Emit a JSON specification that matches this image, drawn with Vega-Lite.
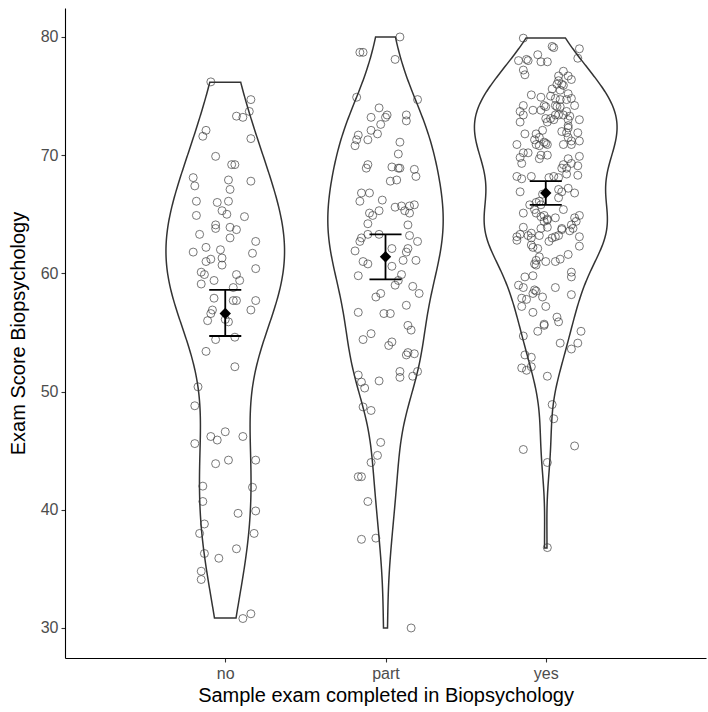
{
"$schema": "https://vega.github.io/schema/vega-lite/v6.json",
"width": 641, "height": 650,
"autosize": {"type": "none"},
"padding": {"left": 65, "top": 8, "right": 2, "bottom": 54},
"background": "white",
"config": {
  "view": {"stroke": null},
  "font": "Liberation Sans",
  "axis": {"grid": false, "domainColor": "black", "domainWidth": 1.1, "tickColor": "#333333", "tickSize": 4, "tickWidth": 1.1,
    "labelColor": "#4d4d4d", "labelFontSize": 16, "labelFont": "Liberation Sans", "titleFont": "Liberation Sans", "titleFontSize": 20, "titleFontWeight": "normal", "titleColor": "black", "labelPadding": 3}
},
"datasets": {
"pts": [
{"g":"no","j":-0.09,"v":76.2},{"g":"no","j":0.16,"v":74.7},{"g":"no","j":0.15,"v":73.7},{"g":"no","j":0.07,"v":73.3},{"g":"no","j":0.11,"v":73.2},
{"g":"no","j":-0.12,"v":72.1},{"g":"no","j":-0.14,"v":71.6},{"g":"no","j":0.16,"v":71.4},{"g":"no","j":-0.06,"v":69.9},{"g":"no","j":0.04,"v":69.2},
{"g":"no","j":0.06,"v":69.2},{"g":"no","j":-0.2,"v":68.1},{"g":"no","j":-0.19,"v":67.4},{"g":"no","j":0.02,"v":67.9},{"g":"no","j":0.16,"v":67.8},
{"g":"no","j":0.03,"v":67.1},{"g":"no","j":-0.18,"v":66.1},{"g":"no","j":-0.05,"v":66.0},{"g":"no","j":0.02,"v":66.1},{"g":"no","j":-0.18,"v":64.9},
{"g":"no","j":-0.02,"v":65.3},{"g":"no","j":0.01,"v":65.0},{"g":"no","j":0.12,"v":64.8},{"g":"no","j":-0.06,"v":64.1},{"g":"no","j":-0.06,"v":63.8},
{"g":"no","j":0.03,"v":63.9},{"g":"no","j":0.07,"v":63.7},{"g":"no","j":0.03,"v":63.0},{"g":"no","j":0.19,"v":62.7},{"g":"no","j":-0.16,"v":63.3},
{"g":"no","j":-0.12,"v":62.2},{"g":"no","j":-0.2,"v":61.8},{"g":"no","j":-0.03,"v":62.0},{"g":"no","j":0.17,"v":61.7},{"g":"no","j":-0.02,"v":61.3},
{"g":"no","j":-0.09,"v":61.2},{"g":"no","j":-0.12,"v":61.0},{"g":"no","j":-0.02,"v":60.7},{"g":"no","j":0.19,"v":60.4},{"g":"no","j":-0.15,"v":60.1},
{"g":"no","j":-0.13,"v":59.9},{"g":"no","j":0.07,"v":59.9},{"g":"no","j":-0.07,"v":59.4},{"g":"no","j":-0.15,"v":59.1},{"g":"no","j":0.09,"v":59.4},
{"g":"no","j":0.05,"v":58.8},{"g":"no","j":-0.07,"v":57.9},{"g":"no","j":0.05,"v":57.7},{"g":"no","j":0.07,"v":57.7},{"g":"no","j":0.19,"v":57.7},
{"g":"no","j":0.16,"v":56.9},{"g":"no","j":-0.08,"v":56.9},{"g":"no","j":-0.09,"v":56.6},{"g":"no","j":-0.11,"v":56.0},{"g":"no","j":0.0,"v":56.1},
{"g":"no","j":0.02,"v":55.9},{"g":"no","j":-0.06,"v":54.4},{"g":"no","j":0.06,"v":54.6},{"g":"no","j":-0.12,"v":53.4},{"g":"no","j":0.06,"v":52.1},
{"g":"no","j":-0.17,"v":50.4},{"g":"no","j":-0.19,"v":48.8},{"g":"no","j":-0.09,"v":46.2},{"g":"no","j":-0.05,"v":45.9},{"g":"no","j":0.0,"v":46.6},
{"g":"no","j":0.11,"v":46.2},{"g":"no","j":-0.19,"v":45.6},{"g":"no","j":-0.06,"v":43.9},{"g":"no","j":0.02,"v":44.2},{"g":"no","j":0.19,"v":44.2},
{"g":"no","j":-0.14,"v":42.0},{"g":"no","j":0.17,"v":41.9},{"g":"no","j":-0.14,"v":40.7},{"g":"no","j":0.08,"v":39.7},{"g":"no","j":0.19,"v":39.9},
{"g":"no","j":-0.13,"v":38.8},{"g":"no","j":-0.16,"v":38.0},{"g":"no","j":0.18,"v":38.0},{"g":"no","j":-0.13,"v":36.3},{"g":"no","j":-0.04,"v":35.9},
{"g":"no","j":0.07,"v":36.7},{"g":"no","j":-0.15,"v":34.8},{"g":"no","j":-0.15,"v":34.1},{"g":"no","j":0.11,"v":30.8},{"g":"no","j":0.16,"v":31.2},
{"g":"part","j":0.09,"v":80.0},{"g":"part","j":-0.16,"v":78.7},{"g":"part","j":-0.14,"v":78.7},{"g":"part","j":0.06,"v":78.1},{"g":"part","j":-0.18,"v":74.9},
{"g":"part","j":0.2,"v":74.7},{"g":"part","j":-0.04,"v":74.0},{"g":"part","j":-0.09,"v":73.2},{"g":"part","j":0.0,"v":73.2},{"g":"part","j":0.01,"v":73.4},
{"g":"part","j":0.13,"v":73.4},{"g":"part","j":0.13,"v":72.9},{"g":"part","j":-0.03,"v":72.6},{"g":"part","j":-0.17,"v":71.7},{"g":"part","j":-0.18,"v":71.3},
{"g":"part","j":-0.19,"v":70.8},{"g":"part","j":-0.09,"v":72.1},{"g":"part","j":-0.05,"v":71.8},{"g":"part","j":-0.11,"v":71.3},{"g":"part","j":0.09,"v":71.1},
{"g":"part","j":0.08,"v":70.1},{"g":"part","j":-0.11,"v":69.2},{"g":"part","j":-0.12,"v":68.9},{"g":"part","j":0.04,"v":69.0},{"g":"part","j":0.08,"v":68.9},
{"g":"part","j":0.09,"v":68.9},{"g":"part","j":0.18,"v":68.8},{"g":"part","j":0.19,"v":68.2},{"g":"part","j":0.03,"v":67.8},{"g":"part","j":0.07,"v":67.9},
{"g":"part","j":-0.15,"v":66.8},{"g":"part","j":-0.1,"v":66.8},{"g":"part","j":-0.16,"v":66.1},{"g":"part","j":-0.02,"v":66.2},{"g":"part","j":0.06,"v":65.6},
{"g":"part","j":0.1,"v":65.7},{"g":"part","j":0.15,"v":65.7},{"g":"part","j":0.18,"v":65.8},{"g":"part","j":0.12,"v":65.3},{"g":"part","j":0.15,"v":65.1},
{"g":"part","j":-0.1,"v":65.1},{"g":"part","j":-0.08,"v":64.9},{"g":"part","j":-0.04,"v":65.3},{"g":"part","j":-0.11,"v":64.2},{"g":"part","j":0.14,"v":64.1},
{"g":"part","j":-0.11,"v":63.3},{"g":"part","j":-0.04,"v":63.3},{"g":"part","j":0.15,"v":63.2},{"g":"part","j":-0.15,"v":63.0},{"g":"part","j":-0.16,"v":62.7},
{"g":"part","j":0.2,"v":62.7},{"g":"part","j":-0.19,"v":61.9},{"g":"part","j":0.04,"v":62.1},{"g":"part","j":0.14,"v":62.1},{"g":"part","j":0.13,"v":61.8},
{"g":"part","j":0.11,"v":61.1},{"g":"part","j":0.19,"v":61.1},{"g":"part","j":-0.14,"v":61.0},{"g":"part","j":-0.11,"v":60.8},{"g":"part","j":0.04,"v":60.6},
{"g":"part","j":-0.17,"v":59.8},{"g":"part","j":0.1,"v":59.9},{"g":"part","j":0.08,"v":59.4},{"g":"part","j":0.06,"v":59.0},{"g":"part","j":0.17,"v":58.9},
{"g":"part","j":0.21,"v":58.3},{"g":"part","j":-0.03,"v":58.3},{"g":"part","j":-0.06,"v":58.0},{"g":"part","j":0.13,"v":57.3},{"g":"part","j":-0.17,"v":56.7},
{"g":"part","j":-0.01,"v":56.6},{"g":"part","j":0.03,"v":56.6},{"g":"part","j":0.14,"v":55.6},{"g":"part","j":0.16,"v":55.2},{"g":"part","j":-0.09,"v":54.9},
{"g":"part","j":-0.14,"v":54.4},{"g":"part","j":0.04,"v":54.2},{"g":"part","j":0.02,"v":53.9},{"g":"part","j":0.14,"v":53.3},{"g":"part","j":0.13,"v":53.1},
{"g":"part","j":0.18,"v":53.2},{"g":"part","j":-0.17,"v":51.4},{"g":"part","j":-0.15,"v":50.8},{"g":"part","j":-0.13,"v":50.3},{"g":"part","j":-0.04,"v":50.9},
{"g":"part","j":0.09,"v":51.7},{"g":"part","j":0.09,"v":51.2},{"g":"part","j":0.2,"v":51.7},{"g":"part","j":0.17,"v":51.3},{"g":"part","j":-0.14,"v":48.7},
{"g":"part","j":-0.09,"v":48.4},{"g":"part","j":-0.03,"v":45.7},{"g":"part","j":-0.05,"v":44.6},{"g":"part","j":-0.09,"v":44.0},{"g":"part","j":-0.17,"v":42.8},
{"g":"part","j":-0.15,"v":42.8},{"g":"part","j":-0.11,"v":40.7},{"g":"part","j":-0.15,"v":37.5},{"g":"part","j":-0.06,"v":37.6},{"g":"part","j":0.16,"v":30.0},
{"g":"yes","j":-0.14,"v":79.9},{"g":"yes","j":0.04,"v":79.2},{"g":"yes","j":0.05,"v":79.1},{"g":"yes","j":0.21,"v":79.0},{"g":"yes","j":0.2,"v":78.2},
{"g":"yes","j":-0.05,"v":78.5},{"g":"yes","j":-0.12,"v":78.1},{"g":"yes","j":-0.11,"v":78.0},{"g":"yes","j":-0.17,"v":78.0},{"g":"yes","j":-0.03,"v":77.9},
{"g":"yes","j":0.01,"v":77.9},{"g":"yes","j":-0.14,"v":77.2},{"g":"yes","j":-0.13,"v":76.8},{"g":"yes","j":0.11,"v":77.1},{"g":"yes","j":0.08,"v":76.7},
{"g":"yes","j":0.14,"v":76.7},{"g":"yes","j":0.16,"v":76.4},{"g":"yes","j":0.08,"v":76.3},{"g":"yes","j":0.07,"v":76.0},{"g":"yes","j":0.1,"v":76.0},
{"g":"yes","j":0.11,"v":75.9},{"g":"yes","j":0.04,"v":75.6},{"g":"yes","j":0.09,"v":75.5},{"g":"yes","j":0.14,"v":75.2},{"g":"yes","j":0.16,"v":74.8},
{"g":"yes","j":-0.09,"v":75.1},{"g":"yes","j":-0.03,"v":74.9},{"g":"yes","j":0.03,"v":75.0},{"g":"yes","j":0.06,"v":74.8},{"g":"yes","j":0.09,"v":74.7},
{"g":"yes","j":0.13,"v":74.7},{"g":"yes","j":-0.14,"v":74.2},{"g":"yes","j":-0.01,"v":74.2},{"g":"yes","j":0.0,"v":74.1},{"g":"yes","j":0.06,"v":74.2},
{"g":"yes","j":0.07,"v":74.1},{"g":"yes","j":0.09,"v":74.1},{"g":"yes","j":-0.08,"v":73.8},{"g":"yes","j":-0.03,"v":73.8},{"g":"yes","j":-0.16,"v":73.7},
{"g":"yes","j":-0.14,"v":73.4},{"g":"yes","j":-0.16,"v":72.8},{"g":"yes","j":0.13,"v":73.7},{"g":"yes","j":0.18,"v":74.2},{"g":"yes","j":0.06,"v":73.4},
{"g":"yes","j":0.08,"v":73.4},{"g":"yes","j":0.11,"v":73.4},{"g":"yes","j":0.0,"v":73.1},{"g":"yes","j":0.03,"v":73.1},{"g":"yes","j":0.01,"v":72.8},
{"g":"yes","j":0.05,"v":73.0},{"g":"yes","j":0.15,"v":73.3},{"g":"yes","j":0.14,"v":73.0},{"g":"yes","j":0.21,"v":73.0},{"g":"yes","j":0.14,"v":72.5},
{"g":"yes","j":0.14,"v":72.3},{"g":"yes","j":-0.02,"v":72.1},{"g":"yes","j":-0.13,"v":71.8},{"g":"yes","j":-0.18,"v":70.9},{"g":"yes","j":-0.06,"v":71.8},
{"g":"yes","j":-0.04,"v":71.5},{"g":"yes","j":-0.07,"v":71.3},{"g":"yes","j":-0.06,"v":70.9},{"g":"yes","j":-0.04,"v":70.8},{"g":"yes","j":-0.01,"v":71.1},
{"g":"yes","j":0.0,"v":71.0},{"g":"yes","j":0.01,"v":70.9},{"g":"yes","j":0.1,"v":72.0},{"g":"yes","j":0.13,"v":71.9},{"g":"yes","j":0.2,"v":71.9},
{"g":"yes","j":0.14,"v":71.5},{"g":"yes","j":0.16,"v":71.2},{"g":"yes","j":0.11,"v":70.9},{"g":"yes","j":0.16,"v":70.9},{"g":"yes","j":0.21,"v":71.2},
{"g":"yes","j":-0.14,"v":70.2},{"g":"yes","j":-0.11,"v":70.2},{"g":"yes","j":-0.16,"v":69.8},{"g":"yes","j":-0.03,"v":70.0},{"g":"yes","j":0.01,"v":70.0},
{"g":"yes","j":-0.04,"v":69.7},{"g":"yes","j":0.14,"v":69.7},{"g":"yes","j":0.21,"v":69.9},{"g":"yes","j":-0.15,"v":69.3},{"g":"yes","j":0.1,"v":68.9},
{"g":"yes","j":0.13,"v":68.9},{"g":"yes","j":0.11,"v":69.2},{"g":"yes","j":0.16,"v":69.3},{"g":"yes","j":0.13,"v":68.4},{"g":"yes","j":0.2,"v":69.1},
{"g":"yes","j":0.2,"v":68.3},{"g":"yes","j":-0.18,"v":68.2},{"g":"yes","j":-0.15,"v":68.0},{"g":"yes","j":-0.09,"v":68.2},{"g":"yes","j":0.08,"v":68.1},
{"g":"yes","j":0.05,"v":68.2},{"g":"yes","j":0.02,"v":68.1},{"g":"yes","j":-0.16,"v":66.9},{"g":"yes","j":0.08,"v":67.1},{"g":"yes","j":0.1,"v":66.9},
{"g":"yes","j":0.14,"v":67.2},{"g":"yes","j":0.18,"v":66.8},{"g":"yes","j":0.08,"v":66.4},{"g":"yes","j":-0.02,"v":66.7},{"g":"yes","j":-0.1,"v":65.8},
{"g":"yes","j":-0.06,"v":66.0},{"g":"yes","j":-0.04,"v":66.1},{"g":"yes","j":-0.03,"v":65.8},{"g":"yes","j":-0.07,"v":65.4},{"g":"yes","j":-0.06,"v":65.1},
{"g":"yes","j":0.11,"v":65.4},{"g":"yes","j":-0.14,"v":65.1},{"g":"yes","j":-0.03,"v":64.8},{"g":"yes","j":-0.01,"v":64.9},{"g":"yes","j":0.01,"v":64.6},
{"g":"yes","j":-0.01,"v":64.4},{"g":"yes","j":0.01,"v":64.5},{"g":"yes","j":0.06,"v":64.7},{"g":"yes","j":0.01,"v":63.9},{"g":"yes","j":-0.03,"v":63.8},
{"g":"yes","j":0.18,"v":64.7},{"g":"yes","j":0.21,"v":64.9},{"g":"yes","j":0.19,"v":64.4},{"g":"yes","j":0.16,"v":64.1},{"g":"yes","j":-0.14,"v":63.9},
{"g":"yes","j":-0.09,"v":63.4},{"g":"yes","j":-0.11,"v":63.2},{"g":"yes","j":-0.09,"v":63.0},{"g":"yes","j":-0.04,"v":63.2},{"g":"yes","j":-0.18,"v":63.1},
{"g":"yes","j":-0.18,"v":62.8},{"g":"yes","j":-0.16,"v":63.3},{"g":"yes","j":0.04,"v":63.0},{"g":"yes","j":0.06,"v":63.1},{"g":"yes","j":0.08,"v":63.2},
{"g":"yes","j":0.1,"v":63.8},{"g":"yes","j":0.1,"v":63.7},{"g":"yes","j":0.15,"v":63.6},{"g":"yes","j":0.17,"v":63.8},{"g":"yes","j":0.02,"v":62.7},
{"g":"yes","j":0.21,"v":63.1},{"g":"yes","j":0.21,"v":62.3},{"g":"yes","j":-0.09,"v":62.4},{"g":"yes","j":-0.08,"v":62.2},{"g":"yes","j":-0.05,"v":62.1},
{"g":"yes","j":0.14,"v":61.6},{"g":"yes","j":-0.04,"v":61.4},{"g":"yes","j":-0.06,"v":61.1},{"g":"yes","j":-0.07,"v":60.8},{"g":"yes","j":-0.06,"v":60.7},
{"g":"yes","j":0.0,"v":61.0},{"g":"yes","j":0.06,"v":61.0},{"g":"yes","j":0.09,"v":61.2},{"g":"yes","j":0.16,"v":60.1},{"g":"yes","j":0.16,"v":59.7},
{"g":"yes","j":-0.08,"v":59.8},{"g":"yes","j":-0.13,"v":59.7},{"g":"yes","j":0.06,"v":58.8},{"g":"yes","j":-0.17,"v":59.0},{"g":"yes","j":-0.14,"v":58.8},
{"g":"yes","j":-0.07,"v":58.6},{"g":"yes","j":-0.08,"v":58.3},{"g":"yes","j":-0.06,"v":58.5},{"g":"yes","j":-0.15,"v":57.9},{"g":"yes","j":-0.12,"v":57.8},
{"g":"yes","j":-0.02,"v":58.0},{"g":"yes","j":0.16,"v":58.2},{"g":"yes","j":-0.15,"v":57.2},{"g":"yes","j":0.0,"v":57.2},{"g":"yes","j":-0.08,"v":56.7},
{"g":"yes","j":0.07,"v":56.3},{"g":"yes","j":0.08,"v":55.9},{"g":"yes","j":-0.01,"v":55.7},{"g":"yes","j":-0.01,"v":55.6},{"g":"yes","j":-0.05,"v":55.1},
{"g":"yes","j":0.22,"v":55.1},{"g":"yes","j":-0.14,"v":54.7},{"g":"yes","j":0.09,"v":54.1},{"g":"yes","j":0.2,"v":54.1},{"g":"yes","j":0.16,"v":53.6},
{"g":"yes","j":-0.13,"v":53.1},{"g":"yes","j":-0.09,"v":52.9},{"g":"yes","j":-0.15,"v":52.0},{"g":"yes","j":-0.12,"v":51.8},{"g":"yes","j":-0.09,"v":52.1},
{"g":"yes","j":0.01,"v":51.3},{"g":"yes","j":0.04,"v":48.9},{"g":"yes","j":0.05,"v":47.7},{"g":"yes","j":-0.14,"v":45.1},{"g":"yes","j":0.18,"v":45.4},
{"g":"yes","j":0.01,"v":44.0},{"g":"yes","j":0.01,"v":36.8}
],
"means": [
{"g":"no","mean":56.6,"lo":54.7,"hi":58.6},
{"g":"part","mean":61.4,"lo":59.5,"hi":63.3},
{"g":"yes","mean":66.8,"lo":65.8,"hi":67.8}
]
},
"layer": [
{
  "data": {"name": "pts"},
  "transform": [
    {"filter": "datum.g == 'no'"},
    {"joinaggregate": [{"op": "min", "field": "v", "as": "mn"}, {"op": "max", "field": "v", "as": "mx"}]},
    {"density": "v", "groupby": ["g", "mn", "mx"], "bandwidth": 5.0, "extent": [29.5, 80.5], "steps": 611, "as": ["v", "d"]},
    {"filter": "datum.v >= datum.mn - 0.04 && datum.v <= datum.mx + 0.04"},
    {"joinaggregate": [{"op": "max", "field": "d", "as": "md"}]},
    {"calculate": "1 - 0.37 * datum.d / datum.md", "as": "xl"},
    {"calculate": "1 + 0.37 * datum.d / datum.md", "as": "xr"}
  ],
  "mark": {"type": "area", "orient": "horizontal", "fill": "transparent", "stroke": "#333333", "strokeWidth": 1.5},
  "encoding": {
    "y": {"field": "v", "type": "quantitative", "scale": {"domain": [27.46, 82.45], "nice": false, "zero": false},
          "axis": {"values": [30, 40, 50, 60, 70, 80], "titlePadding": 12}, "title": "Exam Score Biopsychology"},
    "x": {"field": "xl", "type": "quantitative", "scale": {"domain": [0, 4], "nice": false, "zero": false},
          "axis": {"values": [1, 2, 3], "labelExpr": "datum.value == 1 ? 'no' : datum.value == 2 ? 'part' : 'yes'", "titlePadding": 4}, "title": "Sample exam completed in Biopsychology"},
    "x2": {"field": "xr"}
  }
},
{
  "data": {"name": "pts"},
  "transform": [
    {"filter": "datum.g == 'part'"},
    {"joinaggregate": [{"op": "min", "field": "v", "as": "mn"}, {"op": "max", "field": "v", "as": "mx"}]},
    {"density": "v", "groupby": ["g", "mn", "mx"], "bandwidth": 3.5, "extent": [29.5, 80.5], "steps": 611, "as": ["v", "d"]},
    {"filter": "datum.v >= datum.mn - 0.04 && datum.v <= datum.mx + 0.04"},
    {"joinaggregate": [{"op": "max", "field": "d", "as": "md"}]},
    {"calculate": "2 - 0.36 * datum.d / datum.md", "as": "xl"},
    {"calculate": "2 + 0.36 * datum.d / datum.md", "as": "xr"}
  ],
  "mark": {"type": "area", "orient": "horizontal", "fill": "transparent", "stroke": "#333333", "strokeWidth": 1.5},
  "encoding": {
    "y": {"field": "v", "type": "quantitative", "title": "Exam Score Biopsychology"},
    "x": {"field": "xl", "type": "quantitative", "title": "Sample exam completed in Biopsychology"},
    "x2": {"field": "xr"}
  }
},
{
  "data": {"name": "pts"},
  "transform": [
    {"filter": "datum.g == 'yes'"},
    {"joinaggregate": [{"op": "min", "field": "v", "as": "mn"}, {"op": "max", "field": "v", "as": "mx"}]},
    {"density": "v", "groupby": ["g", "mn", "mx"], "bandwidth": 2.6, "extent": [29.5, 80.5], "steps": 611, "as": ["v", "d"]},
    {"filter": "datum.v >= datum.mn - 0.04 && datum.v <= datum.mx + 0.04"},
    {"joinaggregate": [{"op": "max", "field": "d", "as": "md"}]},
    {"calculate": "3 - 0.445 * datum.d / datum.md", "as": "xl"},
    {"calculate": "3 + 0.445 * datum.d / datum.md", "as": "xr"}
  ],
  "mark": {"type": "area", "orient": "horizontal", "fill": "transparent", "stroke": "#333333", "strokeWidth": 1.5},
  "encoding": {
    "y": {"field": "v", "type": "quantitative", "title": "Exam Score Biopsychology"},
    "x": {"field": "xl", "type": "quantitative", "title": "Sample exam completed in Biopsychology"},
    "x2": {"field": "xr"}
  }
},
{
  "data": {"name": "pts"},
  "transform": [
    {"calculate": "indexof(['no','part','yes'], datum.g) + 1 + datum.j", "as": "px"}
  ],
  "mark": {"type": "point", "shape": "circle", "filled": false, "size": 64, "stroke": "#3a3a3a", "strokeWidth": 0.75, "opacity": 0.9},
  "encoding": {
    "x": {"field": "px", "type": "quantitative", "title": "Sample exam completed in Biopsychology"},
    "y": {"field": "v", "type": "quantitative", "title": "Exam Score Biopsychology"}
  }
},
{
  "mark": {"type": "rule", "stroke": "#4466BB", "strokeWidth": 1.6, "strokeDash": [8, 6]},
  "encoding": {"y": {"datum": 53}}
},
{
  "data": {"name": "means"},
  "transform": [{"calculate": "indexof(['no','part','yes'], datum.g) + 1", "as": "c"}],
  "mark": {"type": "rule", "stroke": "black", "strokeWidth": 1.8},
  "encoding": {
    "x": {"field": "c", "type": "quantitative", "title": "Sample exam completed in Biopsychology"},
    "y": {"field": "lo", "type": "quantitative", "title": "Exam Score Biopsychology"},
    "y2": {"field": "hi"}
  }
},
{
  "data": {"name": "means"},
  "transform": [
    {"fold": ["lo", "hi"], "as": ["k", "e"]},
    {"calculate": "indexof(['no','part','yes'], datum.g) + 0.9", "as": "cl"},
    {"calculate": "indexof(['no','part','yes'], datum.g) + 1.1", "as": "cr"}
  ],
  "mark": {"type": "rule", "stroke": "black", "strokeWidth": 1.8},
  "encoding": {
    "x": {"field": "cl", "type": "quantitative", "title": "Sample exam completed in Biopsychology"},
    "x2": {"field": "cr"},
    "y": {"field": "e", "type": "quantitative", "title": "Exam Score Biopsychology"}
  }
},
{
  "data": {"name": "means"},
  "transform": [{"calculate": "indexof(['no','part','yes'], datum.g) + 1", "as": "c"}],
  "mark": {"type": "point", "shape": "diamond", "filled": true, "fill": "black", "stroke": null, "size": 130, "opacity": 1},
  "encoding": {
    "x": {"field": "c", "type": "quantitative", "title": "Sample exam completed in Biopsychology"},
    "y": {"field": "mean", "type": "quantitative", "title": "Exam Score Biopsychology"}
  }
}
]
}
